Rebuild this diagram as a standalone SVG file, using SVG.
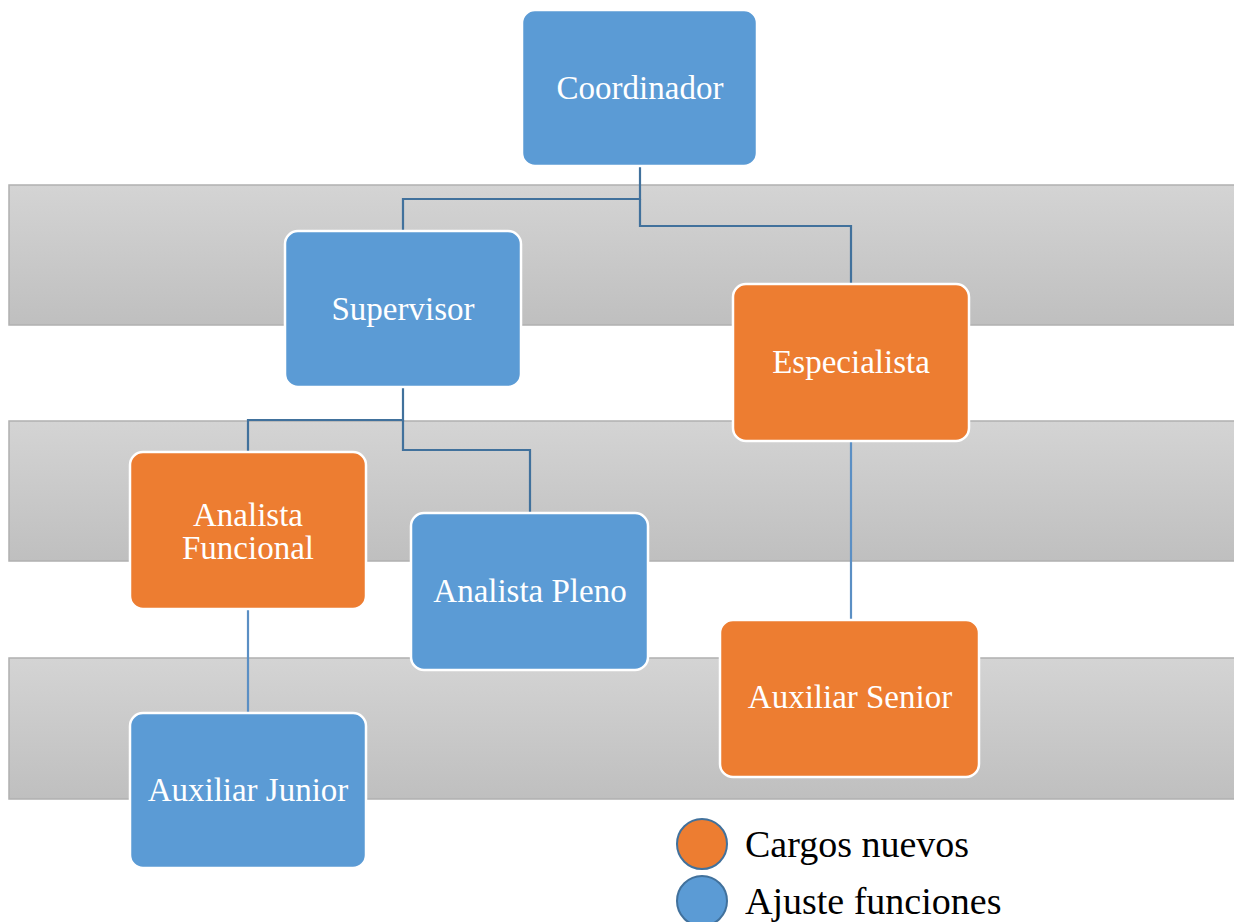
<svg xmlns="http://www.w3.org/2000/svg" width="1234" height="922" viewBox="0 0 1234 922">
<defs>
<linearGradient id="band" x1="0" y1="0" x2="0" y2="1">
<stop offset="0" stop-color="#d4d4d4"/>
<stop offset="1" stop-color="#bfbfbf"/>
</linearGradient>
<style>
.band{fill:url(#band);stroke:#b0b0b0;stroke-width:1.5}
.blue{fill:#5b9bd5;stroke:#ffffff;stroke-width:2.5}
.orange{fill:#ed7d31;stroke:#ffffff;stroke-width:2.5}
.lbl{font-family:"Liberation Serif","Times New Roman",serif;font-size:33px;fill:#ffffff;text-anchor:middle}
.conn{fill:none;stroke:#41719c;stroke-width:2.2}
.leg{font-family:"Liberation Serif","Times New Roman",serif;font-size:38px;fill:#000000}
</style>
</defs>
<rect width="1234" height="922" fill="#ffffff"/>
<g id="bands">
<rect class="band" x="9" y="185" width="1230" height="140"/>
<rect class="band" x="9" y="421" width="1230" height="140"/>
<rect class="band" x="9" y="658" width="1230" height="141"/>
</g>
<g id="connectors">
<polyline class="conn" points="640,166 640,199 403,199 403,231"/>
<polyline class="conn" points="640,199 640,226 851,226 851,284"/>
<polyline class="conn" points="403,387 403,420 248,420 248,452"/>
<polyline class="conn" points="403,420 403,450 530,450 530,513"/>
<polyline class="conn" points="851,441 851,620" style="stroke:#5b8fc4"/>
<polyline class="conn" points="248,609 248,713" style="stroke:#5b8fc4"/>
</g>
<g id="coordinador">
<rect class="blue" x="522" y="10" width="235" height="156" rx="13"/>
<text class="lbl" x="640" y="99">Coordinador</text>
</g>
<g id="supervisor">
<rect class="blue" x="285" y="231" width="236" height="156" rx="13"/>
<text class="lbl" x="403" y="320">Supervisor</text>
</g>
<g id="especialista">
<rect class="orange" x="733" y="284" width="236" height="157" rx="13"/>
<text class="lbl" x="851" y="373">Especialista</text>
</g>
<g id="analista-funcional">
<rect class="orange" x="130" y="452" width="236" height="157" rx="13"/>
<text class="lbl" x="248" y="526">Analista</text>
<text class="lbl" x="248" y="559">Funcional</text>
</g>
<g id="analista-pleno">
<rect class="blue" x="411" y="513" width="237" height="157" rx="13"/>
<text class="lbl" x="530" y="602">Analista Pleno</text>
</g>
<g id="auxiliar-senior">
<rect class="orange" x="720" y="620" width="259" height="157" rx="13"/>
<text class="lbl" x="850" y="708">Auxiliar Senior</text>
</g>
<g id="auxiliar-junior">
<rect class="blue" x="130" y="713" width="236" height="155" rx="13"/>
<text class="lbl" x="248" y="801">Auxiliar Junior</text>
</g>
<g id="legend">
<circle cx="702" cy="844" r="25" fill="#ed7d31" stroke="#41719c" stroke-width="2"/>
<text class="leg" x="745" y="857">Cargos nuevos</text>
<circle cx="702" cy="901" r="25" fill="#5b9bd5" stroke="#41719c" stroke-width="2"/>
<text class="leg" x="745" y="914">Ajuste funciones</text>
</g>
</svg>
